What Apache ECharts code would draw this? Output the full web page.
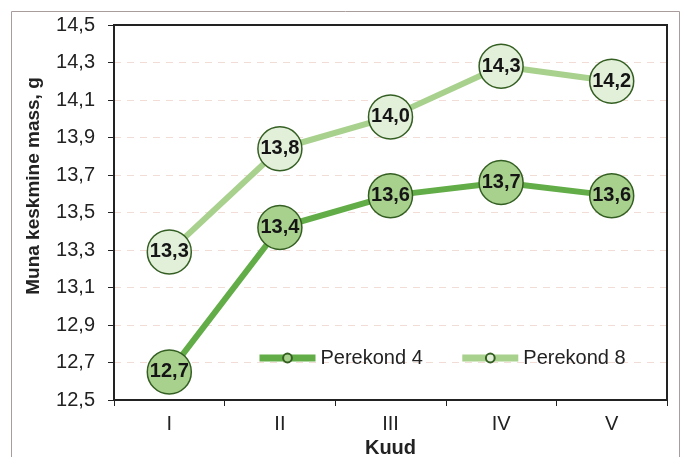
<!DOCTYPE html>
<html>
<head>
<meta charset="utf-8">
<script src="https://cdn.jsdelivr.net/npm/echarts@6/dist/echarts.min.js"></script>
<style>
  html, body { margin: 0; padding: 0; background: #ffffff; }
  #chart { width: 683px; height: 457px; }
</style>
</head>
<body>
<div id="chart"></div>
<script>
// Months (Roman numerals) and mean egg mass per family
const months = ['I', 'II', 'III', 'IV', 'V'];
const family4 = [12.65, 13.42, 13.59, 13.66, 13.59];
const family8 = [13.29, 13.84, 14.01, 14.28, 14.20];
const seriesNames = ['Perekond 4', 'Perekond 8'];
const yTitle = 'Muna keskmine mass, g';
const xTitle = 'Kuud';

const FONT = '"Liberation Sans", Arial, sans-serif';
const comma1 = v => Number(v).toFixed(1).replace('.', ',');

// plot area in pixels
const G = { left: 114, right: 16, top: 25, bottom: 57 };
const W = 683, H = 457;

const chart = echarts.init(document.getElementById('chart'), null, { renderer: 'canvas' });

function lineSeries(name, data, lineColor, fillColor) {
  return {
    name: name,
    type: 'line',
    data: data,
    symbol: 'circle',
    symbolSize: 44,
    lineStyle: { color: lineColor, width: 6 },
    itemStyle: { color: fillColor, borderColor: '#345f22', borderWidth: 1.5 },
    label: {
      show: true,
      position: 'inside',
      formatter: p => comma1(p.value),
      fontFamily: FONT,
      fontWeight: 'bold',
      fontSize: 20,
      color: '#151515'
    },
    emphasis: { disabled: true },
    animation: false
  };
}

chart.setOption({
  backgroundColor: '#ffffff',
  animation: false,
  grid: {
    left: G.left, right: G.right, top: G.top, bottom: G.bottom,
    show: false, containLabel: false, outerBoundsMode: 'none'
  },
  legend: {
    left: 251, top: 343,
    itemWidth: 56, itemHeight: 11, itemGap: 36,
    lineStyle: { width: 7 },
    textStyle: { fontFamily: FONT, fontSize: 20, color: '#222222' },
    data: seriesNames
  },
  xAxis: {
    type: 'category',
    data: months,
    boundaryGap: true,
    name: xTitle,
    nameLocation: 'middle',
    nameGap: 38,
    nameTextStyle: { fontFamily: FONT, fontWeight: 'bold', fontSize: 20, color: '#222222' },
    axisLine: { lineStyle: { color: '#222222', width: 2 } },
    axisTick: { show: true, length: 6, lineStyle: { color: '#222222', width: 1 } },
    axisLabel: { fontFamily: FONT, fontSize: 20, color: '#222222', margin: 14 },
    splitLine: { show: false }
  },
  yAxis: {
    type: 'value',
    min: 12.5, max: 14.5, interval: 0.2,
    axisLine: { show: true, lineStyle: { color: '#222222', width: 2 } },
    axisTick: { show: true, length: 6, lineStyle: { color: '#222222', width: 1 } },
    axisLabel: { fontFamily: FONT, fontSize: 20, color: '#222222', margin: 19, formatter: comma1 },
    splitLine: { show: true, lineStyle: { color: '#f1ddd6', width: 1, type: [7, 6] } }
  },
  graphic: [
    {
      // outer chart frame
      type: 'rect',
      shape: { x: 11.5, y: 11.5, width: 668, height: 470 },
      style: { fill: null, stroke: '#a89c9c', lineWidth: 1 },
      silent: true, z: -1
    },
    {
      // plot area frame
      type: 'rect',
      shape: { x: G.left, y: G.top, width: W - G.left - G.right, height: H - G.top - G.bottom },
      style: { fill: null, stroke: '#222222', lineWidth: 2 },
      silent: true, z: 1
    },
    {
      type: 'text',
      x: 34, y: 186,
      rotation: Math.PI / 2,
      style: {
        text: yTitle,
        font: 'bold 19px ' + FONT,
        fill: '#222222',
        align: 'center',
        verticalAlign: 'middle'
      },
      silent: true
    }
  ],
  series: [
    lineSeries(seriesNames[0], family4, '#62ad47', '#a9d18e'),
    lineSeries(seriesNames[1], family8, '#a9d18e', '#e2efd9')
  ]
});
</script>
</body>
</html>
